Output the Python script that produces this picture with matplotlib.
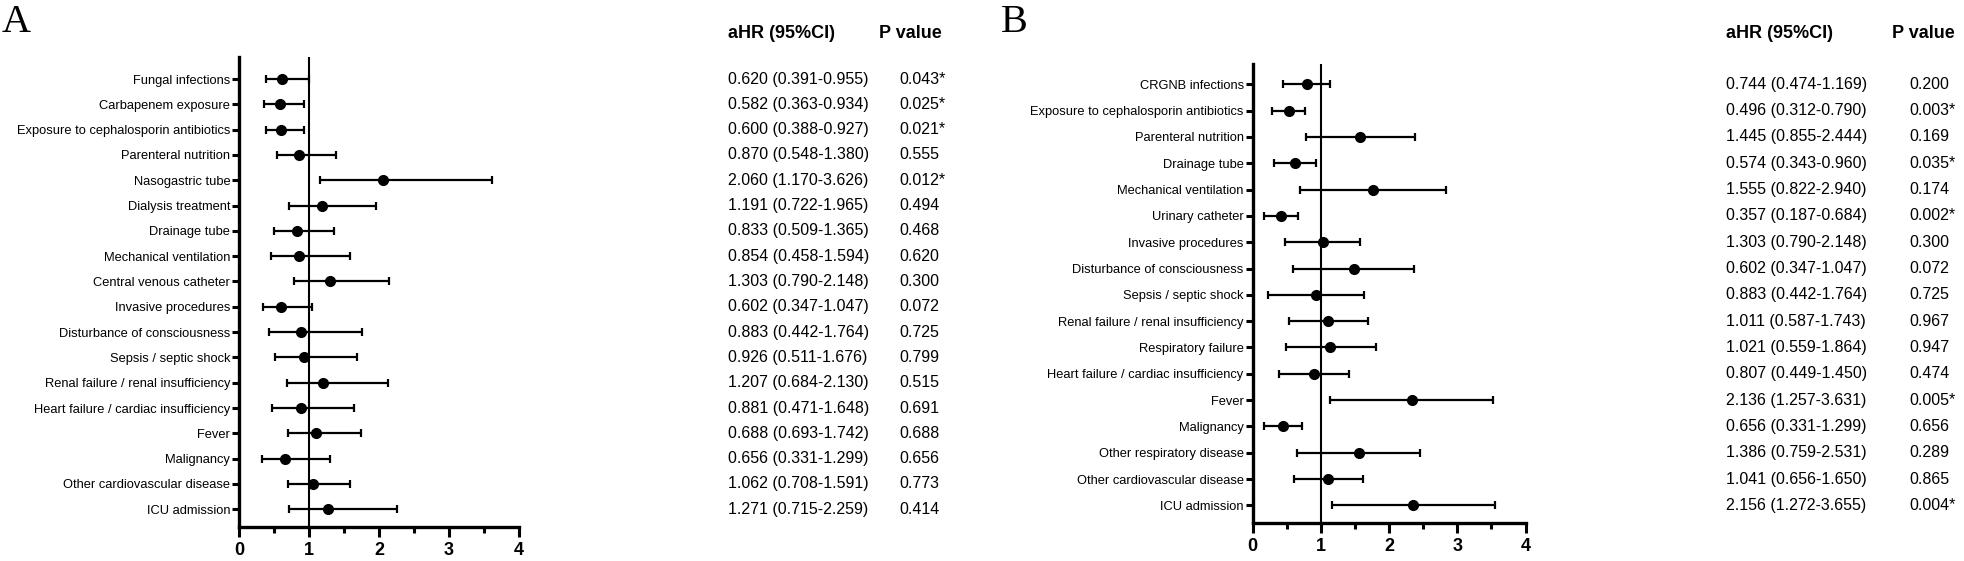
import matplotlib
matplotlib.use("Agg")
import matplotlib.pyplot as plt
import matplotlib.font_manager as fm
from matplotlib.transforms import blended_transform_factory

# Panel A: risk factors, plotted estimates and CI
labels_a = ["Fungal infections", "Carbapenem exposure",
            "Exposure to cephalosporin antibiotics", "Parenteral nutrition",
            "Nasogastric tube", "Dialysis treatment", "Drainage tube",
            "Mechanical ventilation", "Central venous catheter",
            "Invasive procedures", "Disturbance of consciousness",
            "Sepsis / septic shock", "Renal failure / renal insufficiency",
            "Heart failure / cardiac insufficiency", "Fever", "Malignancy",
            "Other cardiovascular disease", "ICU admission"]
hr_a = [0.61, 0.58, 0.60, 0.86, 2.06, 1.18, 0.83, 0.85, 1.30, 0.60, 0.88,
        0.92, 1.20, 0.88, 1.10, 0.65, 1.06, 1.27]
lo_a = [0.38, 0.36, 0.38, 0.54, 1.16, 0.71, 0.50, 0.45, 0.78, 0.34, 0.42,
        0.51, 0.68, 0.47, 0.69, 0.33, 0.70, 0.71]
hi_a = [0.99, 0.93, 0.92, 1.38, 3.62, 1.96, 1.36, 1.59, 2.14, 1.04, 1.76,
        1.68, 2.12, 1.64, 1.74, 1.30, 1.58, 2.25]
ci_text_a = ["0.620 (0.391-0.955)", "0.582 (0.363-0.934)", "0.600 (0.388-0.927)",
             "0.870 (0.548-1.380)", "2.060 (1.170-3.626)", "1.191 (0.722-1.965)",
             "0.833 (0.509-1.365)", "0.854 (0.458-1.594)", "1.303 (0.790-2.148)",
             "0.602 (0.347-1.047)", "0.883 (0.442-1.764)", "0.926 (0.511-1.676)",
             "1.207 (0.684-2.130)", "0.881 (0.471-1.648)", "0.688 (0.693-1.742)",
             "0.656 (0.331-1.299)", "1.062 (0.708-1.591)", "1.271 (0.715-2.259)"]
p_text_a = ["0.043*", "0.025*", "0.021*", "0.555", "0.012*", "0.494", "0.468",
            "0.620", "0.300", "0.072", "0.725", "0.799", "0.515", "0.691",
            "0.688", "0.656", "0.773", "0.414"]

# Panel B
labels_b = ["CRGNB infections", "Exposure to cephalosporin antibiotics",
            "Parenteral nutrition", "Drainage tube", "Mechanical ventilation",
            "Urinary catheter", "Invasive procedures",
            "Disturbance of consciousness", "Sepsis / septic shock",
            "Renal failure / renal insufficiency", "Respiratory failure",
            "Heart failure / cardiac insufficiency", "Fever", "Malignancy",
            "Other respiratory disease", "Other cardiovascular disease",
            "ICU admission"]
hr_b = [0.79, 0.53, 1.58, 0.62, 1.77, 0.41, 1.03, 1.48, 0.93, 1.11, 1.14,
        0.90, 2.33, 0.45, 1.56, 1.11, 2.35]
lo_b = [0.44, 0.29, 0.78, 0.31, 0.70, 0.16, 0.47, 0.59, 0.22, 0.53, 0.49,
        0.39, 1.13, 0.17, 0.65, 0.61, 1.16]
hi_b = [1.14, 0.77, 2.38, 0.93, 2.84, 0.66, 1.58, 2.37, 1.63, 1.69, 1.81,
        1.41, 3.53, 0.73, 2.45, 1.61, 3.56]
ci_text_b = ["0.744 (0.474-1.169)", "0.496 (0.312-0.790)", "1.445 (0.855-2.444)",
             "0.574 (0.343-0.960)", "1.555 (0.822-2.940)", "0.357 (0.187-0.684)",
             "1.303 (0.790-2.148)", "0.602 (0.347-1.047)", "0.883 (0.442-1.764)",
             "1.011 (0.587-1.743)", "1.021 (0.559-1.864)", "0.807 (0.449-1.450)",
             "2.136 (1.257-3.631)", "0.656 (0.331-1.299)", "1.386 (0.759-2.531)",
             "1.041 (0.656-1.650)", "2.156 (1.272-3.655)"]
p_text_b = ["0.200", "0.003*", "0.169", "0.035*", "0.174", "0.002*", "0.300",
            "0.072", "0.725", "0.967", "0.947", "0.474", "0.005*", "0.656",
            "0.289", "0.865", "0.004*"]

W, H = 1964, 561
plt.rcParams["font.family"] = ["Liberation Sans", "DejaVu Sans"]

# the labels in the original use a narrow face; use it when it is there
names = {f.name for f in fm.fontManager.ttflist}
if "Liberation Sans Narrow" in names:
    label_font = ["Liberation Sans Narrow", "Liberation Sans"]
    label_size = 11.5
else:
    label_font = ["Liberation Sans", "DejaVu Sans"]
    label_size = 9.3

fig = plt.figure(figsize=(W / 100, H / 100), dpi=100)


def forest(rect, labels, hr, lo, hi, ci_text, p_text, ylim, col_x, letter, letter_x):
    ax = fig.add_axes(rect)
    n = len(labels)
    ys = list(range(n))
    ax.axvline(1, color="black", lw=1.5, zorder=1)
    xerr = [[h - l for h, l in zip(hr, lo)], [u - h for h, u in zip(hr, hi)]]
    ax.errorbar(hr, ys, xerr=xerr, fmt="o", color="black", ms=7,
                elinewidth=1.6, capsize=3, capthick=1.6, zorder=3)
    ax.set_xlim(0, 4)
    ax.set_ylim(ylim)
    ax.set_yticks(ys)
    ax.set_yticklabels(labels, fontfamily=label_font, fontsize=label_size)
    ax.set_xticks([0, 1, 2, 3, 4])
    ax.set_xticks([0.5, 1.5, 2.5, 3.5], minor=True)
    ax.set_xticklabels(["0", "1", "2", "3", "4"], fontweight="bold",
                       fontsize=13, fontfamily=label_font)
    ax.spines["top"].set_visible(False)
    ax.spines["right"].set_visible(False)
    ax.spines["left"].set_linewidth(2.4)
    ax.spines["bottom"].set_linewidth(2.4)
    ax.tick_params(axis="y", length=5, width=2.2, pad=1.5)
    ax.tick_params(axis="x", which="major", length=7, width=2.2, pad=4)
    ax.tick_params(axis="x", which="minor", length=4, width=2.2)

    # table on the right
    tr = blended_transform_factory(fig.transFigure, ax.transData)
    for y, c, p in zip(ys, ci_text, p_text):
        ax.text(col_x[0] / W, y, c, transform=tr, fontsize=11.5, va="center",
                ha="left", clip_on=False)
        ax.text(col_x[1] / W, y, p, transform=tr, fontsize=11.5, va="center",
                ha="left", clip_on=False)
    fig.text(col_x[0] / W, 1 - 33 / H, "aHR (95%CI)", fontsize=13,
             fontweight="bold", va="center", ha="left")
    fig.text(col_x[2] / W, 1 - 33 / H, "P value", fontsize=13,
             fontweight="bold", va="center", ha="left")
    fig.text(letter_x / W, 1 - 4 / H, letter, fontsize=29, va="top", ha="left",
             fontfamily=["Liberation Serif", "DejaVu Serif"])
    return ax


forest([239.3 / W, 34 / H, 279.7 / W, 470 / H], labels_a, hr_a, lo_a, hi_a,
       ci_text_a, p_text_a, (17.70, -0.87), (728, 899, 879), "A", 2)
forest([1252.7 / W, 38.3 / H, 272.8 / W, 458.4 / H], labels_b, hr_b, lo_b, hi_b,
       ci_text_b, p_text_b, (16.66, -0.76), (1726, 1909, 1892), "B", 1001)

fig.savefig("out.png", dpi=100)
